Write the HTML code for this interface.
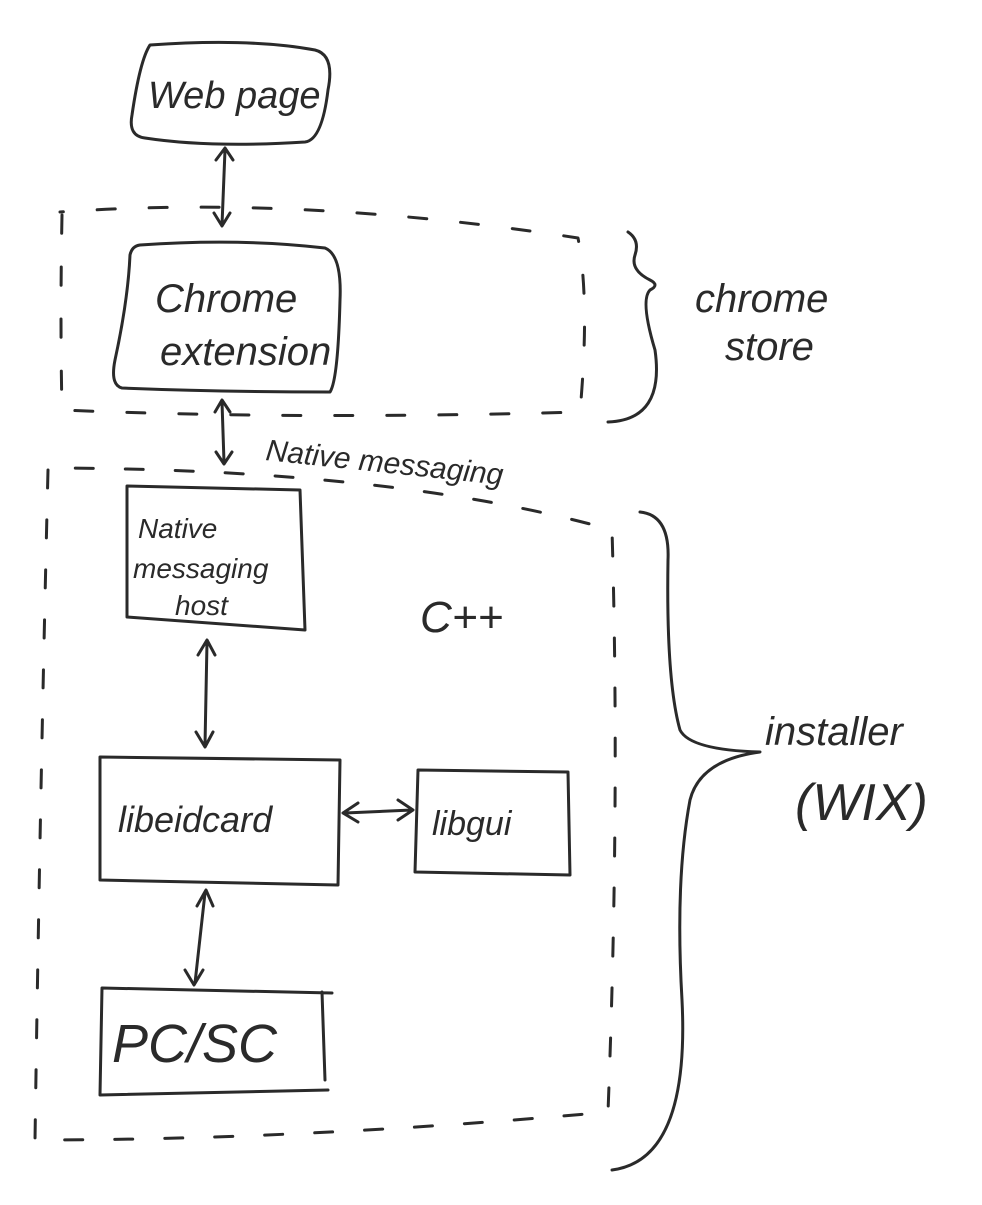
<!DOCTYPE html>
<html><head><meta charset="utf-8"><style>
html,body{margin:0;padding:0;background:#fff;}
svg{display:block}
text{font-family:"Liberation Sans",sans-serif;fill:#2a2a2a;font-style:italic}
</style></head><body>
<svg width="982" height="1205" viewBox="0 0 982 1205" xmlns="http://www.w3.org/2000/svg">
<g fill="none" stroke="#2a2a2a" stroke-width="3" stroke-linecap="round" stroke-linejoin="round">
<path d="M150 45 Q250 38 315 50 Q335 55 328 90 Q322 140 305 142 Q210 148 145 138 Q128 136 132 115 Q140 60 150 45Z"/>
<path d="M225 150 L222 225 M216 160 L225 148 L233 160 M214 213 L222 226 L230 213"/>
<path d="M62 215 Q60 320 62 410 Q300 420 580 412 Q590 300 578 238 Q300 195 60 212" stroke-dasharray="18 34"/>
<path d="M140 245 Q240 238 325 248 Q342 255 340 300 Q338 380 330 392 Q220 392 122 388 Q110 385 115 360 Q128 300 130 255 Q132 246 140 245Z"/>
<path d="M628 232 Q640 240 635 255 Q630 270 650 280 Q660 285 650 290 Q640 300 655 350 Q665 420 608 422"/>
<path d="M222 402 L224 462 M215 412 L222 400 L230 412 M216 452 L224 464 L232 452"/>
<path d="M48 470 Q40 800 35 1140 Q300 1140 608 1112 Q620 800 612 530 Q400 470 60 468" stroke-dasharray="18 32"/>
<path d="M127 486 L300 490 L305 630 L127 617 Z"/>
<path d="M207 642 L205 745 M198 655 L207 640 L215 655 M196 732 L205 747 L213 732"/>
<path d="M100 757 L340 760 L338 885 L100 880 Z"/>
<path d="M418 770 L568 772 L570 875 L415 872 Z"/>
<path d="M345 813 L412 810 M358 803 L343 813 L358 822 M398 800 L413 810 L398 820"/>
<path d="M205 893 L195 983 M197 906 L206 890 L213 906 M185 970 L194 985 L203 970"/>
<path d="M102 988 L332 993 M102 988 L100 1095 L328 1090 M322 992 L325 1080"/>
<path d="M640 512 Q670 515 668 560 Q666 680 680 730 Q690 750 760 752 Q700 760 690 800 Q675 880 682 1000 Q690 1160 612 1170"/>
</g>
<text x="148" y="108" font-size="38">Web page</text>
<text x="155" y="312" font-size="40">Chrome</text>
<text x="160" y="365" font-size="40">extension</text>
<text x="695" y="312" font-size="40">chrome</text>
<text x="725" y="360" font-size="40">store</text>
<text x="265" y="460" font-size="30" transform="rotate(6 265 460)">Native messaging</text>
<text x="138" y="538" font-size="28">Native</text>
<text x="133" y="578" font-size="28">messaging</text>
<text x="175" y="615" font-size="28">host</text>
<text x="420" y="632" font-size="44">C++</text>
<text x="118" y="832" font-size="36">libeidcard</text>
<text x="432" y="835" font-size="34">libgui</text>
<text x="112" y="1062" font-size="54" font-style="normal">PC/SC</text>
<text x="765" y="745" font-size="40">installer</text>
<text x="795" y="820" font-size="52" font-style="normal">(WIX)</text>
</svg>
</body></html>
